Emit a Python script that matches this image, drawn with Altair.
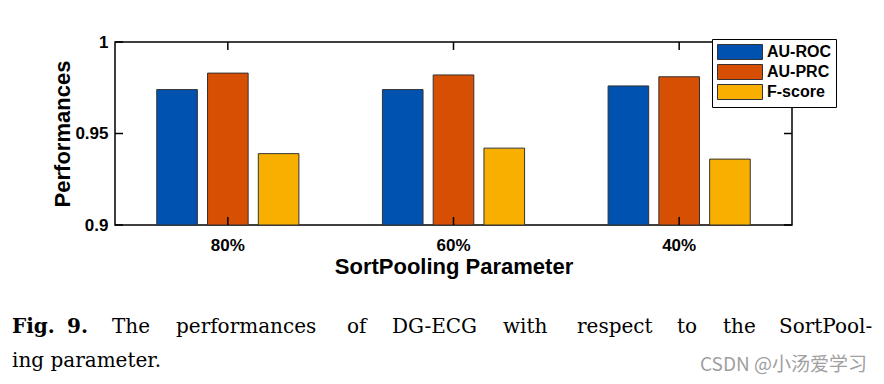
import altair as alt
import pandas as pd

categories = ["80%", "60%", "40%"]
metrics = ["AU-ROC", "AU-PRC", "F-score"]
au_roc = [0.974, 0.974, 0.976]
au_prc = [0.983, 0.982, 0.981]
f_score = [0.939, 0.942, 0.936]
y_ticks = [0.9, 0.95, 1.0]
colors = ["#0052B0", "#D64F02", "#F9AF00"]
caption_line1 = ["Fig.", "9.", "The", "performances", "of", "DG-ECG", "with",
                 "respect", "to", "the", "SortPool-"]
caption_line2 = "ing parameter."
watermark = "CSDN @小汤爱学习"

rows = []
for i, c in enumerate(categories):
    for m, vals in zip(metrics, [au_roc, au_prc, f_score]):
        rows.append({"param": c, "metric": m, "value": vals[i]})
df = pd.DataFrame(rows)
cat_df = pd.DataFrame({"param": categories})
ytick_df = pd.DataFrame({"v": y_ticks})

W, H = 677, 183
FONT = "Liberation Sans"

x_scale = alt.Scale(domain=categories, paddingInner=0.37, paddingOuter=0.185)
y_scale = alt.Scale(domain=[0.9, 1.0], nice=False, zero=False)

bars = alt.Chart(df).mark_bar(stroke="#333333", strokeWidth=1, opacity=1).encode(
    x=alt.X("param:N", scale=x_scale, sort=categories,
            axis=alt.Axis(title="SortPooling Parameter", labelAngle=0, ticks=False,
                          domain=False, grid=False, labelFont=FONT, labelFontSize=17,
                          labelFontWeight="bold", labelColor="black", labelPadding=12,
                          titleFont=FONT, titleFontSize=22, titleFontWeight="bold",
                          titleColor="black", titlePadding=3)),
    xOffset=alt.XOffset("metric:N", sort=metrics,
                        scale=alt.Scale(domain=metrics, paddingInner=0.2, paddingOuter=0)),
    y=alt.Y("value:Q", scale=y_scale,
            axis=alt.Axis(values=y_ticks, format="~g", title="Performances", ticks=False,
                          domain=False, grid=False, labelFont=FONT, labelFontSize=17,
                          labelFontWeight="bold", labelColor="black", labelPadding=7,
                          titleFont=FONT, titleFontSize=22, titleFontWeight="bold",
                          titleColor="black", titleAngle=270, titleX=-53, titleY=91.5,
                          titleBaseline="middle", titleAlign="center")),
    y2=alt.datum(0.9),
    color=alt.Color("metric:N", sort=metrics, scale=alt.Scale(domain=metrics, range=colors),
                    legend=alt.Legend(title=None, orient="none", legendX=597, legendY=-3,
                                      strokeColor="black", fillColor="white", padding=5,
                                      rowPadding=0, symbolType="M-3,-1L3,-1L3,1L-3,1Z",
                                      symbolSize=225, symbolOffset=15, symbolStrokeColor="#333333",
                                      symbolStrokeWidth=1, symbolOpacity=1,
                                      labelFont=FONT, labelFontSize=16, labelFontWeight="bold",
                                      labelColor="black", labelOffset=19)),
)

tick_len = 0.1 * 8 / H
xt_bottom = alt.Chart(cat_df).mark_rule(color="black", strokeWidth=1.5).encode(
    x=alt.X("param:N", scale=x_scale, sort=categories), y=alt.datum(0.9),
    y2=alt.datum(0.9 + tick_len))
xt_top = alt.Chart(cat_df).mark_rule(color="black", strokeWidth=1.5).encode(
    x=alt.X("param:N", scale=x_scale, sort=categories), y=alt.datum(1.0),
    y2=alt.datum(1.0 - tick_len))
yt_left = alt.Chart(ytick_df).mark_rule(color="black", strokeWidth=1.5).encode(
    y=alt.Y("v:Q", scale=y_scale), x=alt.value(0), x2=alt.value(8))
yt_right = alt.Chart(ytick_df).mark_rule(color="black", strokeWidth=1.5).encode(
    y=alt.Y("v:Q", scale=y_scale), x=alt.value(W - 8), x2=alt.value(W))

word_x = [-103, -48, -3, 61, 232, 277, 388, 462, 562, 608, 664]
text_layers = []
for i, (w, xx) in enumerate(zip(caption_line1, word_x)):
    bold = i < 2
    text_layers.append(
        alt.Chart(pd.DataFrame({"t": [w]})).mark_text(
            align="left", baseline="alphabetic", font="DejaVu Serif", fontSize=20,
            fontWeight="bold" if bold else "normal", color="black"
        ).encode(text="t:N", x=alt.value(xx), y=alt.value(291)))
text_layers.append(
    alt.Chart(pd.DataFrame({"t": [caption_line2]})).mark_text(
        align="left", baseline="alphabetic", font="DejaVu Serif", fontSize=20, color="black"
    ).encode(text="t:N", x=alt.value(-103), y=alt.value(325)))
text_layers.append(
    alt.Chart(pd.DataFrame({"t": [watermark]})).mark_text(
        align="left", baseline="middle", font="Noto Sans CJK SC", fontSize=19, color="#a0a0a0"
    ).encode(text="t:N", x=alt.value(585), y=alt.value(323)))

chart = alt.layer(bars, xt_bottom, xt_top, yt_left, yt_right, *text_layers).properties(
    width=W, height=H,
    autosize=alt.AutoSizeParams(type="none"),
    padding={"left": 107, "top": 34, "right": 84, "bottom": 151},
).configure_view(stroke="black", strokeWidth=1.5)

chart.save("out.html", embed_options={"renderer": "svg", "actions": False})
